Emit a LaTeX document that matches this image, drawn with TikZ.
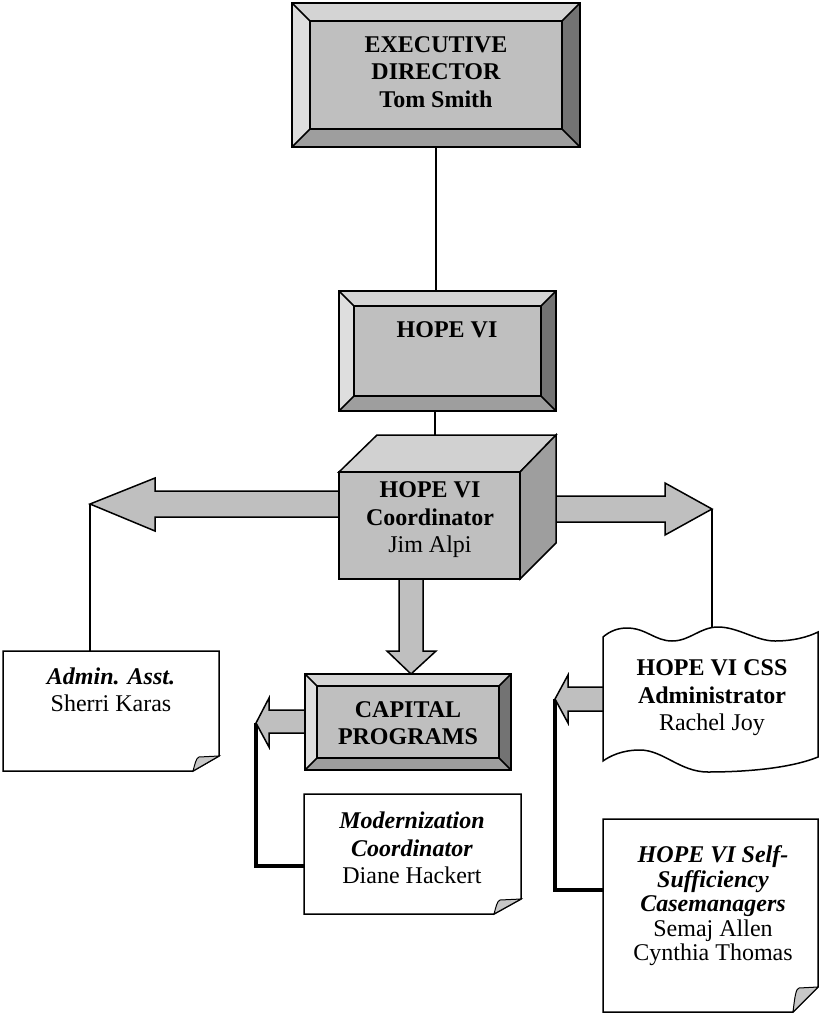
\documentclass[tikz,border=0pt]{standalone}
\usepackage{fontspec}
\setmainfont{Liberation Serif}
\usetikzlibrary{calc}
\definecolor{facegray}{gray}{0.75}
\definecolor{bevtop}{gray}{0.83}
\definecolor{bevleft}{gray}{0.87}
\definecolor{bevbot}{gray}{0.62}
\definecolor{bevright}{gray}{0.45}
\definecolor{cubetopc}{gray}{0.82}
\definecolor{cubeside}{gray}{0.62}
\definecolor{arrowgray}{gray}{0.75}
\definecolor{flapgray}{gray}{0.78}

% bevelled box: x1 y1 x2 y2 bevel
\newcommand\bevelbox[5]{%
  \fill[bevtop] (#1,#2) -- (#3,#2) -- ({#3-#5},{#2+#5}) -- ({#1+#5},{#2+#5}) -- cycle;
  \fill[bevleft] (#1,#2) -- ({#1+#5},{#2+#5}) -- ({#1+#5},{#4-#5}) -- (#1,#4) -- cycle;
  \fill[bevbot] (#1,#4) -- ({#1+#5},{#4-#5}) -- ({#3-#5},{#4-#5}) -- (#3,#4) -- cycle;
  \fill[bevright] (#3,#2) -- (#3,#4) -- ({#3-#5},{#4-#5}) -- ({#3-#5},{#2+#5}) -- cycle;
  \fill[facegray] ({#1+#5},{#2+#5}) rectangle ({#3-#5},{#4-#5});
  \draw[outline] (#1,#2) rectangle (#3,#4);
  \draw[outline] ({#1+#5},{#2+#5}) rectangle ({#3-#5},{#4-#5});
  \draw[outline] (#1,#2) -- ({#1+#5},{#2+#5}) (#3,#2) -- ({#3-#5},{#2+#5})
                 (#1,#4) -- ({#1+#5},{#4-#5}) (#3,#4) -- ({#3-#5},{#4-#5});
}
% folded-corner box: x1 y1 x2 y2 xb yr
\newcommand\foldbox[6]{%
  \filldraw[fill=white, outline] (#1,#2) -- (#3,#2) -- (#3,#6) -- (#5,#4) -- (#1,#4) -- cycle;
  \filldraw[fill=flapgray, draw=black, line width=1pt]
    (#5,#4) .. controls ({#5+2},{#6+8}) and ({#5+3},{#6+2}) .. ({#5+6},{#6+1}) -- (#3,#6) -- cycle;
}

\begin{document}
\begin{tikzpicture}[x=1pt,y=-1pt,
  outline/.style={draw=black, line width=1.5pt, line join=miter},
  link/.style={draw=black, line width=1.5pt},
  heavylink/.style={draw=black, line width=3.5pt, line join=miter},
  fatarrow/.style={fill=arrowgray},
  frame/.style={draw=none, inner sep=0pt, outer sep=0pt},
  txt/.style={align=center, inner sep=0pt, font=\fontsize{24}{27.5}\selectfont}]
\useasboundingbox (0,0) rectangle (819,1013);

% ---- shape anchors
\node[frame, minimum width=288, minimum height=144] (exec) at (436,75) {};
\node[frame, minimum width=217, minimum height=120] (hope) at (447.5,351) {};
\node[frame, minimum width=181, minimum height=107] (coord) at (429.5,525.5) {};
\node[frame, minimum width=216, minimum height=120] (admin) at (111,711) {};
\node[frame, minimum width=206, minimum height=96] (capital) at (408,722) {};
\node[frame, minimum width=217, minimum height=120] (modern) at (412.5,854) {};
\node[frame, minimum width=215, minimum height=145] (css) at (710.5,699.5) {};
\node[frame, minimum width=215, minimum height=193] (casem) at (710.5,915.5) {};
\coordinate (cubetop) at (435,435);
\coordinate (tipL) at (90,504);
\coordinate (tipR) at (712,509);
\coordinate (tipC) at (256,723);
\coordinate (tipS) at (555,699);
\coordinate (mj) at (256,866);
\coordinate (sj) at (555,890);

% ---- thin connectors
\draw[link] (exec.south) -- (exec.south |- hope.north);
\draw[draw=black, line width=2.7pt] (cubetop |- hope.south) -- (cubetop);
\draw[link] (tipL) -- (tipL |- admin.north);
\draw[link] (tipR) -- (tipR |- css.north);
\draw[heavylink] (tipC) -- (mj) -- (mj -| modern.west);
\draw[heavylink] (tipS) -- (sj) -- (sj -| casem.west);

% ---- block arrows
\fill[fatarrow] (339,491) -- (155,491) -- (155,478) -- (tipL) -- (155,531) -- (155,517) -- (339,517) -- cycle;
\draw[outline] (339,491) -- (155,491) -- (155,478) -- (tipL) -- (155,531) -- (155,517) -- (339,517);
\fill[fatarrow] (556,496) -- (665,496) -- (665,483) -- (tipR) -- (665,535) -- (665,522) -- (556,522) -- cycle;
\draw[outline] (556,496) -- (665,496) -- (665,483) -- (tipR) -- (665,535) -- (665,522) -- (556,522);
\fill[fatarrow] (399,579) -- (399,651) -- (387,651) -- (411,674) -- (436,651) -- (423,651) -- (423,579) -- cycle;
\draw[outline] (399,579) -- (399,651) -- (387,651) -- (411,674) -- (436,651) -- (423,651) -- (423,579);
\fill[fatarrow] (305,710) -- (269,710) -- (269,698) -- (tipC) -- (269,747) -- (269,733) -- (305,733) -- cycle;
\draw[outline] (305,710) -- (269,710) -- (269,698) -- (tipC) -- (269,747) -- (269,733) -- (305,733);
\fill[fatarrow] (603,687) -- (568,687) -- (568,675) -- (tipS) -- (568,723) -- (568,711) -- (603,711) -- cycle;
\draw[outline] (603,687) -- (568,687) -- (568,675) -- (tipS) -- (568,723) -- (568,711) -- (603,711);

% ---- bevelled boxes
\bevelbox{292}{3}{580}{147}{18}
\bevelbox{339}{291}{556}{411}{15}
\bevelbox{305}{674}{511}{770}{12}

% ---- cube
\filldraw[fill=cubetopc, outline] (339,472) -- (377,435) -- (556,435) -- (520,472) -- cycle;
\filldraw[fill=cubeside, outline] (520,472) -- (556,435) -- (556,543) -- (520,579) -- cycle;
\filldraw[fill=facegray, outline] (339,472) rectangle (520,579);

% ---- folded boxes
\foldbox{3}{651}{219}{771}{193}{756}
\foldbox{304}{794}{521}{914}{494}{899}
\foldbox{603}{819}{818}{1012}{793}{987}

% ---- wavy box
\filldraw[fill=white, outline]
  (603,637) .. controls (610,631) and (618,628) .. (627,628)
  .. controls (646,628) and (655,641) .. (672,641)
  .. controls (690,641) and (700,627) .. (718,627)
  .. controls (738,627) and (756,641) .. (775,641)
  .. controls (793,641) and (808,637) .. (818,632)
  -- (818,757)
  .. controls (786,770) and (735,772) .. (708,772)
  .. controls (680,772) and (663,750) .. (640,750)
  .. controls (622,750) and (610,756) .. (603,761) -- cycle;

% ---- texts
\node[txt] (t-exec) at (436,72) {\textbf{EXECUTIVE}\\\textbf{DIRECTOR}\\\textbf{Tom Smith}};
\node[txt] (t-hope) at (447,330) {\textbf{HOPE VI}};
\node[txt] (t-coord) at (430,520) {\textbf{HOPE VI}\\\textbf{Coordinator}\\Jim Alpi};
\node[txt] (t-admin) at (111,690) {\textbf{\textit{Admin. Asst.}}\\Sherri Karas};
\node[txt] (t-capital) at (408,723) {\textbf{CAPITAL}\\\textbf{PROGRAMS}};
\node[txt] (t-modern) at (412,848) {\textbf{\textit{Modernization}}\\\textbf{\textit{Coordinator}}\\Diane Hackert};
\node[txt] (t-css) at (712,698) {\textbf{HOPE VI CSS}\\\textbf{Administrator}\\Rachel Joy};
\node[txt, font=\fontsize{24}{24.5}\selectfont] (t-casem) at (713,906)
  {\textbf{\textit{HOPE VI Self-}}\\\textbf{\textit{Sufficiency}}\\\textbf{\textit{Casemanagers}}\\Semaj Allen\\Cynthia Thomas};
\end{tikzpicture}
\end{document}
